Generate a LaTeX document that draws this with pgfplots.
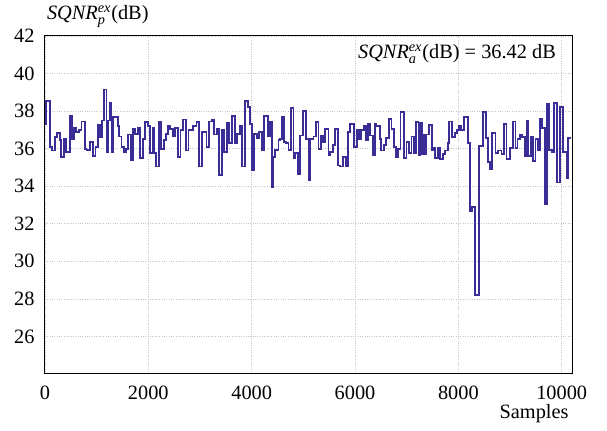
\documentclass[border=0pt]{standalone}
\usepackage{fontspec}
\setmainfont{Liberation Serif}
\usepackage{amsmath}
\usepackage{pgfplots}
\pgfplotsset{compat=1.18}
\definecolor{lc}{RGB}{58,46,150}
\begin{document}
\fontsize{12.2}{14}\selectfont
\begin{tikzpicture}
\begin{axis}[
 scale only axis, width=316.2pt, height=202.8pt,
 xmin=0, xmax=10200, ymin=24, ymax=42,
 xtick={0,2000,...,10000}, ytick={26,28,...,42},
 scaled x ticks=false, scaled y ticks=false,
 xticklabels={0,2000,4000,6000,8000,10000},
 yticklabels={26,28,30,32,34,36,38,40,42},
 tick label style={font=\rmfamily\fontsize{12.2}{14}\selectfont},
 xticklabel style={yshift=-3pt},
 yticklabel style={xshift=-2pt},
 major tick length=0pt,
 grid=major, major grid style={gray!45, densely dotted, line width=0.4pt},
 axis line style={line width=0.6pt},
]
\addplot[const plot, lc, line width=1.1pt] coordinates {
(0,37.3)(26,38.55)(104,36.1)(136,35.9)(201,36.6)(233,36.85)(285,36.45)(317,35.55)
(369,36.5)(414,35.8)(479,37.75)(524,36.5)(563,37.1)(608,36.9)(654,37.0)(705,37.45)
(770,36.0)(803,35.95)(867,36.35)(932,35.6)(977,36.1)(1029,37.25)(1061,36.6)(1107,37.5)
(1146,39.15)(1191,35.8)(1223,37.5)(1256,38.45)(1288,35.8)(1320,37.7)(1405,37.2)(1437,36.65)
(1482,36.1)(1521,35.8)(1567,36.0)(1612,36.75)(1664,35.4)(1696,37.05)(1741,36.8)(1793,37.1)
(1845,35.5)(1890,36.5)(1935,37.4)(1987,37.2)(2039,35.75)(2084,37.1)(2117,35.75)(2149,35.05)
(2201,37.4)(2246,36.0)(2298,36.45)(2343,36.8)(2388,37.2)(2427,37.05)(2473,36.65)(2518,37.1)
(2570,35.55)(2621,37.0)(2667,37.55)(2731,35.9)(2777,37.0)(2868,37.2)(2932,37.4)(2978,35.05)
(3043,36.9)(3127,36.1)(3172,37.45)(3237,37.55)(3269,36.75)(3321,37.05)(3366,34.6)(3431,37.0)
(3463,35.8)(3515,37.35)(3560,36.3)(3612,37.75)(3670,36.3)(3722,36.8)(3774,37.2)(3819,35.05)
(3864,38.55)(3929,38.2)(3968,37.3)(4013,34.85)(4046,36.8)(4097,36.55)(4143,36.9)(4195,35.9)
(4240,37.75)(4323,36.65)(4356,37.4)(4388,33.95)(4420,35.55)(4453,35.95)(4518,36.45)(4550,36.5)
(4582,37.7)(4628,36.35)(4666,36.3)(4712,35.95)(4757,38.15)(4809,35.5)(4841,35.75)(4893,34.65)
(4938,36.7)(4990,38.0)(5055,36.5)(5100,34.35)(5132,36.5)(5197,36.65)(5249,37.4)(5294,36.0)
(5339,36.7)(5378,36.35)(5424,37.05)(5488,35.65)(5521,35.8)(5572,36.2)(5618,37.05)(5663,35.1)
(5702,35.05)(5767,35.55)(5819,35.05)(5864,36.9)(5896,37.3)(5974,36.1)(6039,37.0)(6078,36.5)
(6123,37.0)(6168,37.2)(6207,36.45)(6252,37.3)(6298,36.7)(6349,35.65)(6382,37.3)(6414,37.2)
(6479,36.5)(6511,35.9)(6557,36.2)(6608,36.55)(6654,37.6)(6705,37.05)(6751,36.1)(6790,35.55)
(6835,36.0)(6880,37.95)(6945,35.5)(6997,36.35)(7048,35.75)(7094,36.65)(7139,35.75)(7178,37.4)
(7230,35.65)(7260,37.35)(7290,35.7)(7315,36.75)(7360,35.7)(7385,36.75)(7437,37.25)(7489,35.95)
(7515,36.05)(7554,35.5)(7599,36.05)(7644,35.45)(7696,35.7)(7748,35.9)(7793,36.3)(7825,37.45)
(7877,36.6)(7942,36.85)(7968,37.0)(8007,37.2)(8052,37.0)(8117,37.7)(8181,36.3)(8227,32.7)
(8265,32.9)(8330,28.2)(8395,36.15)(8473,37.95)(8537,36.55)(8570,35.3)(8615,34.9)(8654,36.85)
(8719,35.75)(8770,35.9)(8835,35.7)(8887,37.3)(8932,35.45)(8997,36.05)(9062,37.45)(9107,36.05)
(9146,36.5)(9191,36.75)(9236,36.6)(9288,35.6)(9321,37.5)(9353,35.6)(9405,36.65)(9450,35.35)
(9495,36.5)(9534,35.9)(9580,37.6)(9625,37.1)(9677,33.05)(9709,38.4)(9754,35.95)(9806,35.8)
(9858,38.45)(9903,34.2)(9968,38.2)(10020,35.8)(10097,34.45)(10130,36.55)(10190,36.55)
};
\coordinate (sw) at (rel axis cs:0,0);
\coordinate (ne) at (rel axis cs:1,1);
\coordinate (tl) at (rel axis cs:0,1);
\coordinate (ann) at (rel axis cs:0.970,0.932);
\coordinate (xl) at (rel axis cs:0.928,0);
\end{axis}
\node[anchor=base west, inner sep=0pt] at ([xshift=1pt,yshift=9.6pt]tl)
  {\textit{SQNR}$^{\text{\textit{ex}}}_{\text{\textit{p}}}$(dB)};
\node[anchor=base east, inner sep=0pt] at (ann)
  {\textit{SQNR}$^{\text{\textit{ex}}}_{\text{\textit{a}}}$(dB) = 36.42 dB};
\node[anchor=base, inner sep=0pt] at ([yshift=-27pt]xl) {Samples};
\pgfresetboundingbox
\path[use as bounding box] ([shift={(-27pt,-34.2pt)}]sw) rectangle ([shift={(21pt,21.6pt)}]ne);
\end{tikzpicture}
\end{document}
